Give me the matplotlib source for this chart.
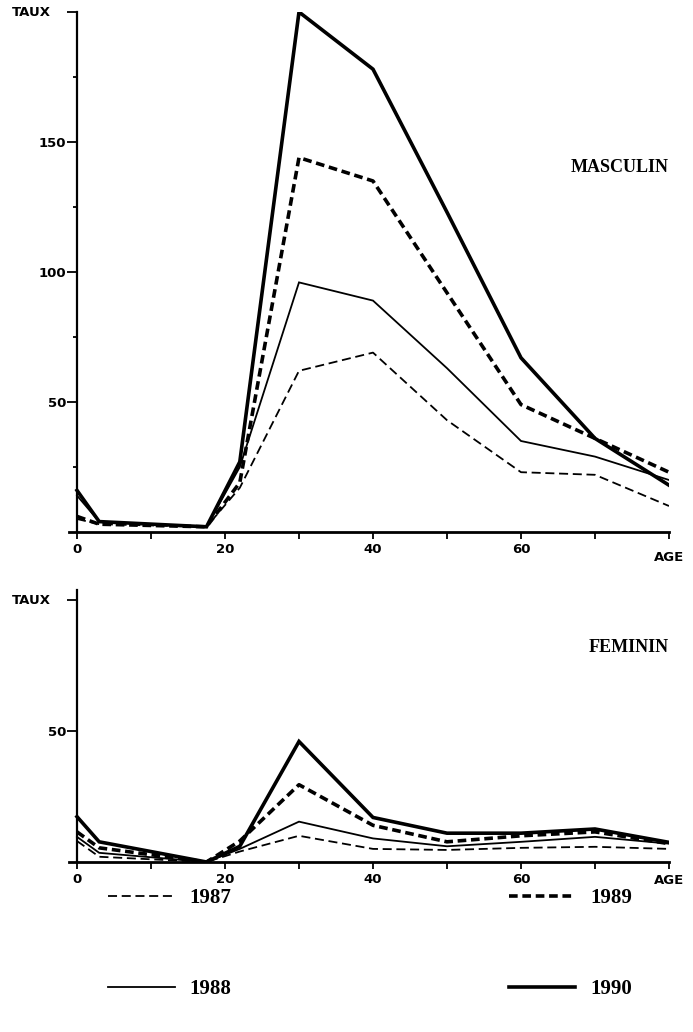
import matplotlib
matplotlib.use('Agg')
import matplotlib.pyplot as plt

# age groups (x) and rates per year
ages = [0, 3, 17.5, 22, 30, 40, 50, 60, 70, 80]

masc_1987 = [5, 3, 2, 17, 62, 69, 43, 23, 22, 10]
masc_1988 = [14, 4, 2, 25, 96, 89, 63, 35, 29, 20]
masc_1989 = [6, 3, 2, 19, 144, 135, 92, 49, 36, 23]
masc_1990 = [16, 4, 2, 27, 200, 178, 123, 67, 36, 18]

fem_1987 = [8, 2, 0, 4, 10, 5, 4.6, 5.4, 5.8, 5]
fem_1988 = [9.6, 3.5, 0, 5, 15.4, 9, 6, 7.7, 9.6, 7]
fem_1989 = [11.5, 5.4, 0, 8, 29.5, 14, 7.7, 10, 11.5, 7]
fem_1990 = [17.3, 7.7, 0, 6, 46, 17, 11, 11, 12.6, 7.5]

years = ['1987', '1988', '1989', '1990']
x_ticks = [0, 20, 40, 60]
x_minor = [10, 30, 50, 70, 80]

# line look for each year: thin dashed, thin solid, thick dashed, thick solid
styles = {
    '1987': dict(lw=1.3, dashes=(5, 2.6)),
    '1988': dict(lw=1.3),
    '1989': dict(lw=2.6, dashes=(2.4, 1.3)),
    '1990': dict(lw=2.6),
}

tick_font = dict(family='DejaVu Sans', weight='bold', size=9.5)
title_font = dict(family='Liberation Serif', weight='bold', size=13)

fig = plt.figure(figsize=(6.93, 10.32), dpi=100)


def setup_axes(ax, ytop, yticks, ylabels, minor_y, age_drop):
    ax.set_xlim(-1.1, 80)
    ax.set_ylim(0, ytop)
    ax.spines['top'].set_visible(False)
    ax.spines['right'].set_visible(False)
    ax.spines['left'].set_position(('data', 0))
    ax.spines['left'].set_linewidth(1.6)
    ax.spines['bottom'].set_linewidth(2.0)
    ax.set_xticks(x_ticks)
    ax.set_xticklabels([str(t) for t in x_ticks], fontdict=tick_font)
    ax.set_xticks(x_minor, minor=True)
    ax.set_yticks(yticks)
    ax.set_yticklabels(ylabels, fontdict=tick_font)
    ax.set_yticks(minor_y, minor=True)
    ax.tick_params(axis='both', which='both', direction='out', width=1.3, color='black')
    ax.tick_params(axis='x', which='both', length=5, pad=3)
    ax.tick_params(axis='y', which='major', length=7, pad=1)
    ax.tick_params(axis='y', which='minor', length=3)
    # the top tick is the axis title
    ax.text(-0.03, yticks[-1], 'TAUX', transform=ax.get_yaxis_transform(),
            ha='right', va='center', fontdict=tick_font)
    ax.annotate('AGE', xy=(80, 0), xytext=(0, -age_drop), textcoords='offset points',
                ha='center', va='top', **tick_font)


ax_left = 77 / 693 - 1.1 * 592 / 80 / 693
ax_width = (592 + 1.1 * 592 / 80) / 693

ax1 = fig.add_axes([ax_left, 1 - 532 / 1032, ax_width, 520 / 1032])
for yr, vals in zip(years, [masc_1987, masc_1988, masc_1989, masc_1990]):
    ax1.plot(ages, vals, color='black', solid_joinstyle='miter', label=yr, **styles[yr])
setup_axes(ax1, 200, [50, 100, 150, 200], ['50', '100', '150', ''], [25, 75, 125, 175], 14)
ax1.text(73.3, 140, 'MASCULIN', ha='center', va='center', fontdict=title_font)

ax2 = fig.add_axes([ax_left, 1 - 862 / 1032, ax_width, 104 * 2.62 / 1032])
for yr, vals in zip(years, [fem_1987, fem_1988, fem_1989, fem_1990]):
    ax2.plot(ages, vals, color='black', solid_joinstyle='miter', label=yr, **styles[yr])
setup_axes(ax2, 104, [50, 100], ['50', ''], [], 9)
ax2.text(74.5, 82, 'FEMININ', ha='center', va='center', fontdict=title_font)

handles, labels = ax1.get_legend_handles_labels()
fig.legend(handles, labels, loc='upper left', bbox_to_anchor=(108 / 693, 1 - 888 / 1032),
           ncol=2, frameon=False, borderpad=0, borderaxespad=0,
           handlelength=3.2, handletextpad=0.72, columnspacing=13.3, labelspacing=3.4,
           prop=dict(family='Liberation Serif', weight='bold', size=15))

fig.savefig('out.png', dpi=100)
